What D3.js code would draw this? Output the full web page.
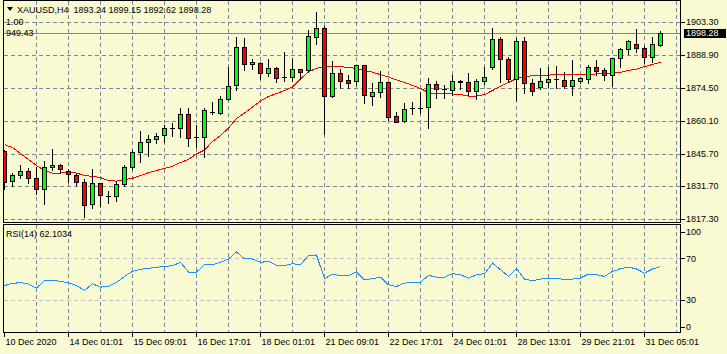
<!DOCTYPE html>
<html><head><meta charset="utf-8">
<script src="https://cdn.jsdelivr.net/npm/d3@7"></script>
<style>
body{margin:0;background:#FAFAD2}
svg{display:block}
text{font-family:'Liberation Sans',Arial,sans-serif;font-size:9px;fill:#000;white-space:pre}
</style>
</head><body><svg id="c" width="727" height="354"></svg>
<script>
const symbolTitle = "XAUUSD,H4";
const lastOHLC = [1893.24, 1899.15, 1892.62, 1898.28];
const opens = [1847.0,1833.8,1836.4,1838.3,1835.1,1830.3,1839.9,1840.8,1838.5,1836.7,1833.4,1823.8,1832.9,1827.5,1827.4,1832.5,1839.9,1846.4,1850.8,1852.2,1853.9,1857.0,1857.1,1862.9,1853.2,1853.2,1864.0,1863.6,1869.5,1875.6,1892.1,1884.7,1885.1,1880.8,1883.1,1879.2,1879.3,1882.5,1882.1,1896.7,1900.3,1870.7,1880.8,1877.9,1877.6,1884.2,1871.1,1872.5,1876.9,1862.1,1860.2,1865.5,1865.8,1866.0,1876.0,1873.8,1873.5,1877.6,1876.9,1873.1,1877.6,1883.4,1895.6,1886.9,1878.2,1895.0,1876.7,1875.0,1877.1,1878.1,1877.7,1875.4,1877.6,1878.2,1883.4,1882.2,1880.0,1887.3,1891.2,1893.4,1891.6,1887.7,1893.24];
const highs = [1847.4,1837.3,1840.9,1839.4,1839.9,1842.8,1847.8,1841.3,1839.1,1837.5,1834.7,1839.0,1833.1,1829.4,1833.8,1840.9,1847.4,1855.7,1853.9,1854.7,1858.3,1859.0,1865.8,1865.8,1858.1,1865.8,1868.4,1870.9,1883.6,1896.7,1896.0,1887.0,1885.6,1887.0,1883.6,1889.9,1887.0,1882.6,1899.6,1907.3,1901.3,1886.1,1882.6,1879.9,1884.4,1884.4,1876.5,1881.6,1877.0,1863.9,1867.7,1868.1,1872.8,1878.6,1877.4,1875.7,1880.0,1877.7,1881.0,1878.2,1883.4,1900.3,1896.4,1887.7,1896.0,1896.4,1878.2,1882.9,1883.6,1883.9,1881.5,1886.6,1879.3,1884.4,1886.6,1882.9,1887.4,1891.6,1895.3,1900.0,1892.6,1896.4,1899.15];
const lows = [1830.4,1831.7,1835.4,1833.2,1828.3,1823.9,1838.7,1837.6,1833.5,1832.2,1818.4,1822.0,1823.0,1824.5,1825.3,1831.6,1839.0,1842.4,1844.7,1850.5,1851.0,1853.5,1853.2,1849.1,1848.8,1844.5,1863.1,1863.1,1869.2,1873.5,1882.2,1882.6,1878.3,1879.6,1877.1,1877.4,1877.4,1878.3,1881.2,1893.4,1854.4,1870.5,1874.6,1874.2,1875.7,1867.9,1866.8,1870.5,1860.6,1859.5,1859.7,1863.2,1863.6,1856.8,1869.9,1869.9,1871.3,1873.8,1871.3,1869.5,1876.1,1882.6,1877.1,1877.6,1869.2,1872.3,1871.3,1873.8,1874.9,1874.5,1874.2,1871.3,1876.7,1876.7,1880.0,1877.9,1875.4,1883.7,1889.0,1889.9,1885.4,1885.8,1892.62];
const closes = [1833.7,1836.4,1838.3,1835.1,1830.3,1839.9,1840.8,1839.0,1836.9,1833.4,1823.7,1832.9,1827.8,1827.6,1832.5,1840.0,1846.4,1850.8,1852.2,1853.5,1856.8,1857.2,1862.9,1852.8,1853.3,1864.8,1864.1,1869.5,1875.2,1892.1,1884.7,1885.6,1880.8,1882.9,1878.9,1879.3,1882.5,1881.5,1897.0,1900.3,1870.8,1880.8,1877.6,1876.4,1884.2,1871.2,1872.5,1876.9,1861.9,1859.7,1865.1,1865.6,1865.9,1876.0,1873.8,1873.9,1877.6,1876.9,1873.1,1877.6,1879.0,1895.6,1886.9,1878.2,1895.0,1876.4,1873.2,1877.4,1878.2,1878.2,1875.4,1877.7,1878.6,1883.4,1881.9,1880.0,1887.3,1891.3,1894.8,1891.6,1887.7,1893.4,1898.28];
const maValues = [1849.8,1848.5,1845.9,1843.3,1840.7,1838.5,1837.4,1837.4,1837.8,1837.4,1836.3,1836.0,1835.4,1834.1,1833.9,1834.6,1835.1,1836.3,1837.6,1838.5,1839.4,1840.4,1842.0,1843.3,1845.7,1847.4,1851.1,1853.7,1857.0,1861.1,1863.5,1866.1,1868.7,1870.7,1872.0,1873.3,1874.8,1878.3,1881.5,1882.9,1883.7,1883.9,1883.7,1883.3,1882.9,1882.0,1881.3,1880.2,1879.2,1877.9,1876.8,1875.5,1874.2,1872.4,1871.8,1871.8,1871.8,1871.5,1870.9,1870.9,1871.5,1873.3,1875.2,1876.8,1878.5,1879.2,1879.8,1879.8,1880.0,1880.2,1880.2,1880.3,1880.3,1880.3,1880.5,1880.7,1880.9,1881.2,1882.0,1882.6,1883.7,1884.6,1885.6];
const rsiValues = [44.0,46.0,46.8,45.4,41.5,48.9,48.9,48.0,46.5,44.0,39.3,45.7,42.5,43.1,47.0,52.7,57.5,59.5,60.5,61.5,62.3,63.0,66.2,56.9,56.9,63.9,63.9,66.2,69.4,76.1,69.4,69.4,66.2,67.0,63.5,63.0,64.9,63.9,72.9,73.2,50.5,55.0,53.4,53.4,56.9,49.5,50.5,52.1,44.7,43.1,46.3,47.0,47.3,53.7,52.1,52.1,55.3,54.3,51.1,54.3,55.3,65.5,59.1,52.7,60.1,50.2,48.6,50.2,51.1,51.1,49.5,50.2,51.1,55.0,54.3,52.7,57.5,60.1,61.7,59.8,55.9,59.8,62.1];
const rsiLast = "62.1034";
const timeLabels = ["10 Dec 2020","14 Dec 01:01","15 Dec 09:01","16 Dec 17:01","18 Dec 01:01","21 Dec 09:01","22 Dec 17:01","24 Dec 01:01","28 Dec 13:01","29 Dec 21:01","31 Dec 05:01"];
const timeLabelIdx = [0,8,16,24,32,40,48,56,64,72,80];
const priceTicks = [1903.30,1888.90,1874.50,1860.10,1845.70,1831.70,1817.30];
const rsiTicks = [100,70,30,0];
const rsiLevels = [70,30];

const svg = d3.select("#c");
const BG = "#FAFAD2", GRID = "#778899";
const L = 3.5, R = 680.5, MT = 0.5, MB = 222.5, RT = 224.5, RB = 332.5;

const x = d3.scaleLinear().domain([0, 82]).range([4.5, 660.5]);
const y = d3.scaleLinear().domain([1817.3, 1903.3]).range([219.3, 21.5]);
const yr = d3.scaleLinear().domain([0, 100]).range([331.5, 227]);
const snap = v => Math.round(v) + 0.5;

svg.append("rect").attr("width", 727).attr("height", 354).attr("fill", BG);

const defs = svg.append("defs");
defs.append("clipPath").attr("id", "cm").append("rect").attr("x", 4).attr("y", 1).attr("width", R - 4).attr("height", MB - 1);
defs.append("clipPath").attr("id", "cr").append("rect").attr("x", 4).attr("y", RT + 0.5).attr("width", R - 4).attr("height", RB - RT - 1);

// ---------- main panel ----------
const gm = svg.append("g").attr("clip-path", "url(#cm)").attr("shape-rendering", "crispEdges");
const gridIdx = d3.range(4, 85, 4);
gm.selectAll("line.vg").data(gridIdx).join("line")
  .attr("x1", d => x(d)).attr("x2", d => x(d)).attr("y1", MT).attr("y2", MB)
  .attr("stroke", GRID).attr("stroke-dasharray", "4,3");
gm.selectAll("line.hg").data(priceTicks).join("line")
  .attr("x1", L).attr("x2", R).attr("y1", d => snap(y(d))).attr("y2", d => snap(y(d)))
  .attr("stroke", GRID).attr("stroke-dasharray", "4,3");
// bid line
gm.append("line").attr("x1", L).attr("x2", R)
  .attr("y1", snap(y(lastOHLC[3]))).attr("y2", snap(y(lastOHLC[3])))
  .attr("stroke", GRID);

// MA line
gm.append("path").datum(maValues)
  .attr("d", d3.line().x((d, i) => x(i)).y(d => y(d)))
  .attr("fill", "none").attr("stroke", "#FF0000").attr("stroke-width", 1);

// candles
const candles = d3.range(opens.length).map(i => ({i, o: opens[i], h: highs[i], l: lows[i], c: closes[i]}));
const cg = gm.selectAll("g.c").data(candles).join("g");
cg.append("line")
  .attr("x1", d => x(d.i)).attr("x2", d => x(d.i))
  .attr("y1", d => Math.round(y(d.h))).attr("y2", d => Math.round(y(d.l)) + 1)
  .attr("stroke", "#000");
cg.each(function(d) {
  const g = d3.select(this);
  const yt = Math.round(y(Math.max(d.o, d.c))), yb = Math.round(y(Math.min(d.o, d.c)));
  if (yb - yt < 1) {
    g.append("line").attr("x1", x(d.i) - 2.5).attr("x2", x(d.i) + 2.5)
      .attr("y1", yt + 0.5).attr("y2", yt + 0.5).attr("stroke", "#000");
  } else {
    g.append("rect").attr("x", x(d.i) - 2).attr("width", 4)
      .attr("y", yt + 0.5).attr("height", yb - yt)
      .attr("fill", d.c >= d.o ? "#00FF00" : "#FF0000").attr("stroke", "#000");
  }
});

// frame
svg.append("rect").attr("x", L).attr("y", MT).attr("width", R - L).attr("height", MB - MT)
  .attr("fill", "none").attr("stroke", "#000").attr("shape-rendering", "crispEdges");

// price axis
const pa = svg.append("g").attr("shape-rendering", "crispEdges");
pa.selectAll("line").data(priceTicks).join("line")
  .attr("x1", R).attr("x2", R + 4).attr("y1", d => snap(y(d))).attr("y2", d => snap(y(d))).attr("stroke", "#000");
pa.selectAll("text").data(priceTicks).join("text")
  .attr("x", 686).attr("y", d => y(d)).attr("dy", "0.35em").text(d => d.toFixed(2));
// current price box
const by = y(lastOHLC[3]);
pa.append("rect").attr("x", 684).attr("y", Math.round(by) - 4.5).attr("width", 42).attr("height", 9).attr("fill", "#000");
pa.append("text").attr("x", 686).attr("y", by).attr("dy", "0.38em").style("fill", "#fff").text(lastOHLC[3].toFixed(2));

// header
svg.append("path").attr("d", "M7,7 L13,7 L10,11 Z").attr("fill", "#000");
svg.append("text").attr("x", 17).attr("y", 13)
  .text(symbolTitle + "  " + lastOHLC.map(v => v.toFixed(2)).join(" "));
svg.append("text").attr("x", 6).attr("y", 22).attr("dy", "0.35em").text("1.00");
svg.append("text").attr("x", 6).attr("y", 33).attr("dy", "0.35em").text("949.43");

// ---------- RSI panel ----------
svg.append("rect").attr("x", L).attr("y", RT).attr("width", R - L).attr("height", RB - RT).attr("fill", BG);
const gr = svg.append("g").attr("clip-path", "url(#cr)").attr("shape-rendering", "crispEdges");
gr.selectAll("line.vg").data(gridIdx).join("line")
  .attr("x1", d => x(d)).attr("x2", d => x(d)).attr("y1", RT).attr("y2", RB)
  .attr("stroke", GRID).attr("stroke-dasharray", "4,3");
gr.selectAll("line.lv").data(rsiLevels).join("line")
  .attr("x1", L).attr("x2", R).attr("y1", d => snap(yr(d))).attr("y2", d => snap(yr(d)))
  .attr("stroke", "#C0C0C0").attr("stroke-dasharray", "4,3");
gr.append("path").datum(rsiValues)
  .attr("d", d3.line().x((d, i) => x(i)).y(d => yr(d)))
  .attr("fill", "none").attr("stroke", "#1E90FF").attr("stroke-width", 1);
svg.append("rect").attr("x", L).attr("y", RT).attr("width", R - L).attr("height", RB - RT)
  .attr("fill", "none").attr("stroke", "#000").attr("shape-rendering", "crispEdges");
svg.append("text").attr("x", 6).attr("y", 234).attr("dy", "0.35em").text("RSI(14) " + rsiLast);

const ra = svg.append("g").attr("shape-rendering", "crispEdges");
const rsiLabelY = v => Math.min(Math.max(yr(v), 231.5), 326.7);
ra.selectAll("line").data(rsiTicks).join("line")
  .attr("x1", R).attr("x2", R + 4).attr("y1", d => snap(rsiLabelY(d))).attr("y2", d => snap(rsiLabelY(d))).attr("stroke", "#000");
ra.selectAll("text").data(rsiTicks).join("text")
  .attr("x", 686).attr("y", d => rsiLabelY(d)).attr("dy", "0.35em").text(d => d);

// time axis
const ta = svg.append("g").attr("shape-rendering", "crispEdges");
ta.selectAll("line").data(timeLabelIdx).join("line")
  .attr("x1", d => x(d) - 0.5).attr("x2", d => x(d) - 0.5).attr("y1", RB).attr("y2", RB + 4).attr("stroke", "#000");
ta.selectAll("text").data(timeLabelIdx).join("text")
  .attr("x", d => x(d) + 1).attr("y", 341.5).attr("dy", "0.35em").text((d, k) => timeLabels[k]);
</script></body></html>
